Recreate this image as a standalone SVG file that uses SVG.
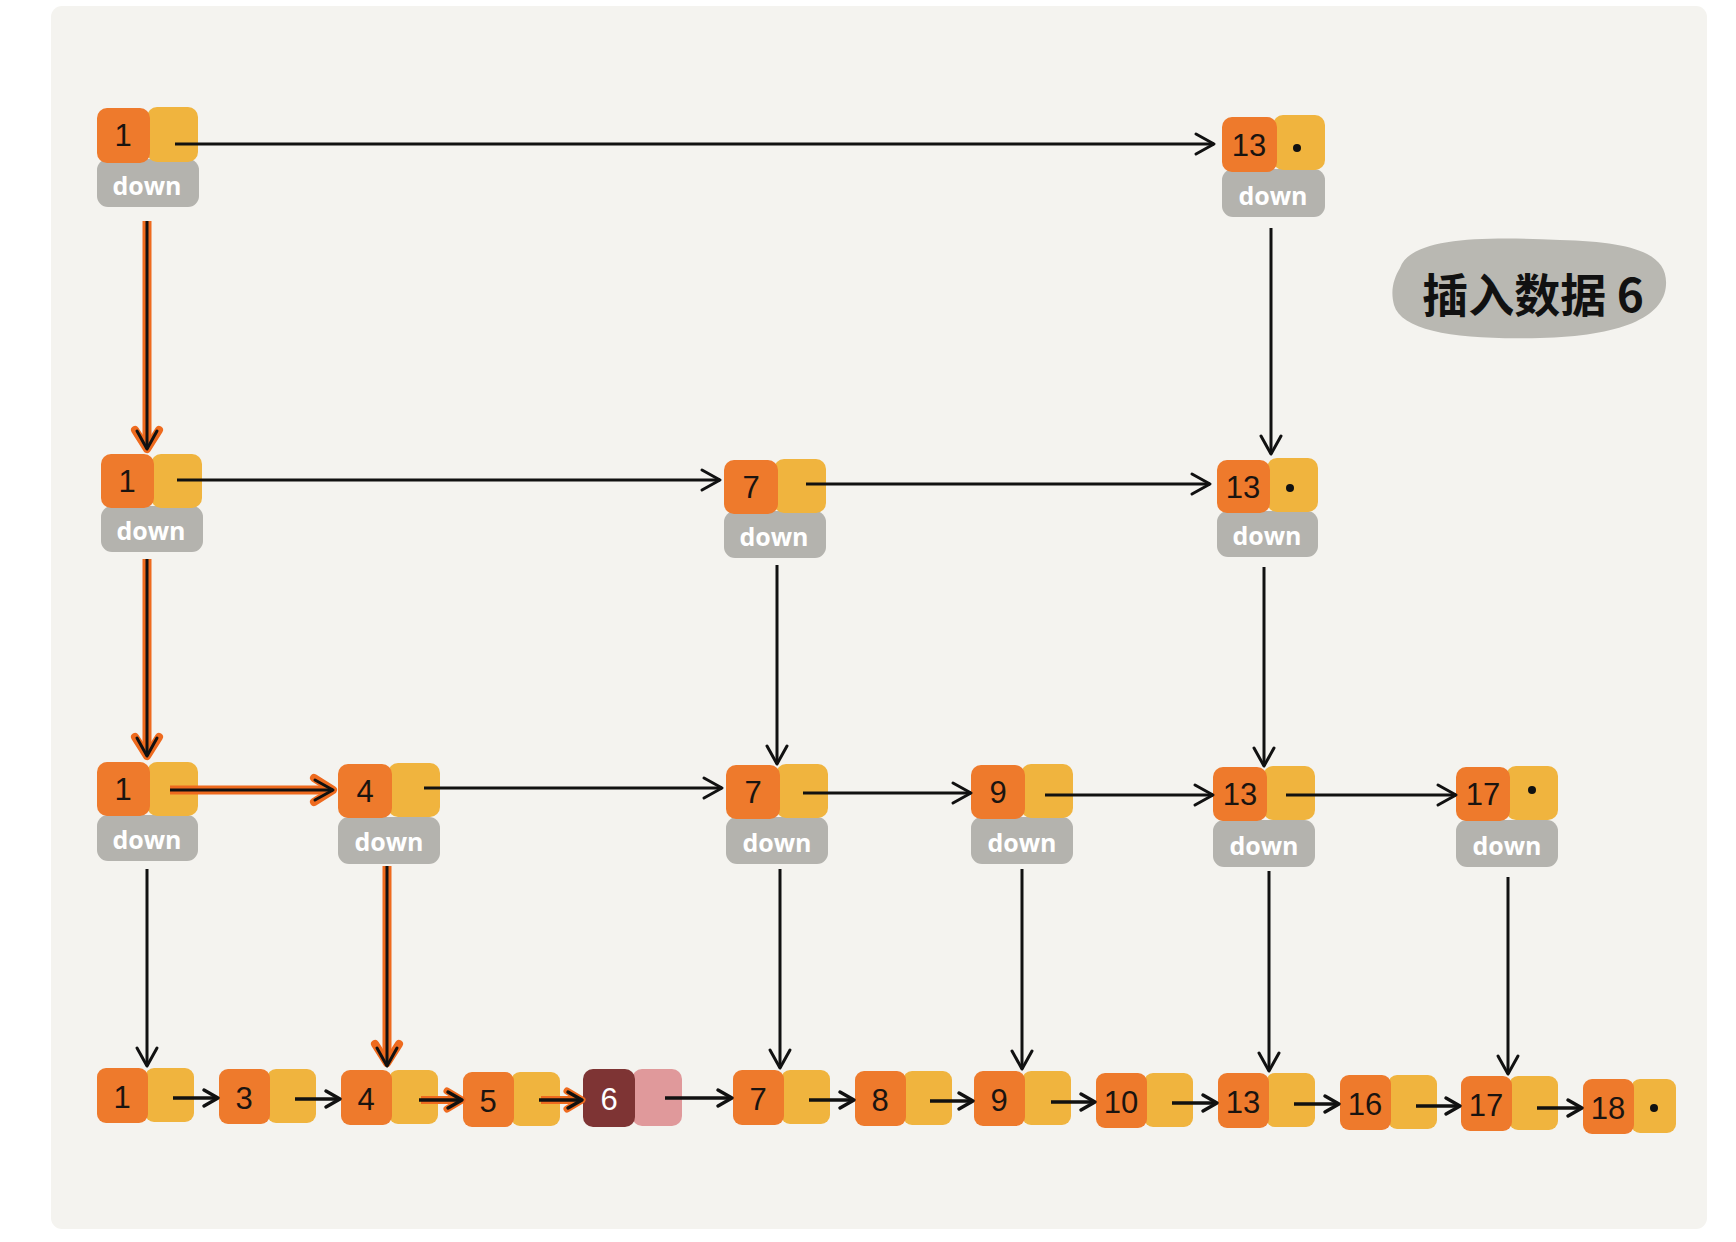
<svg xmlns="http://www.w3.org/2000/svg" width="1736" height="1242" viewBox="0 0 1736 1242">
<style>
.or{fill:#ee7a2c}
.ye{fill:#f0b43e}
.gr{fill:#b4b3ae}
.num{font-family:"Liberation Sans","DejaVu Sans",sans-serif;font-size:31px;fill:#1a1410;text-anchor:middle}
.dn{font-family:"Open Sans","DejaVu Sans",sans-serif;font-size:25px;font-weight:bold;fill:#ffffff;text-anchor:middle}
.ln{stroke:#111;stroke-width:3;fill:none;marker-end:url(#ah)}
.lns{stroke:#111;stroke-width:3.5;fill:none;marker-end:url(#ahs)}
.hl{stroke:#ee6a1e;stroke-width:9;fill:none;marker-end:url(#aho)}
.hls{stroke:#ee6a1e;stroke-width:8;fill:none;marker-end:url(#ahos)}
.dot{fill:#111}
</style>
<defs>
<marker id="ah" markerUnits="userSpaceOnUse" markerWidth="26" markerHeight="26" refX="21" refY="12" orient="auto" overflow="visible">
<path d="M3,2 L21,12 L3,22" fill="none" stroke="#111" stroke-width="3" stroke-linecap="round" stroke-linejoin="round"/>
</marker>
<marker id="ahs" markerUnits="userSpaceOnUse" markerWidth="22" markerHeight="22" refX="17" refY="10" orient="auto" overflow="visible">
<path d="M3,2 L17,10 L3,18" fill="none" stroke="#111" stroke-width="3.5" stroke-linecap="round" stroke-linejoin="round"/>
</marker>
<marker id="aho" markerUnits="userSpaceOnUse" markerWidth="30" markerHeight="30" refX="22" refY="14" orient="auto" overflow="visible">
<path d="M3,2 L22,14 L3,26" fill="none" stroke="#ee6a1e" stroke-width="8" stroke-linecap="round" stroke-linejoin="round"/>
</marker>
<marker id="ahos" markerUnits="userSpaceOnUse" markerWidth="26" markerHeight="26" refX="18" refY="11" orient="auto" overflow="visible">
<path d="M3,2 L18,11 L3,20" fill="none" stroke="#ee6a1e" stroke-width="7" stroke-linecap="round" stroke-linejoin="round"/>
</marker>
</defs>
<rect x="0" y="0" width="1736" height="1242" fill="#ffffff"/>
<rect x="51" y="6" width="1656" height="1223" rx="11" fill="#f4f3ef"/>

<g id="label">
<path d="M1400,268 C1410,238 1480,236 1560,240 C1630,242 1668,252 1666,285 C1664,318 1620,336 1540,338 C1460,340 1402,332 1394,305 C1390,290 1394,278 1400,268 Z" fill="#b9b8b2"/>
<text x="1533" y="312" font-family="Noto Sans CJK SC, sans-serif" font-size="46" font-weight="bold" fill="#111" text-anchor="middle">插入数据 6</text>
</g>

<!-- upper-level nodes -->
<g id="n0_1" transform="translate(97,107)">
<rect class="gr" x="0" y="52" width="102" height="48" rx="11"/>
<rect class="ye" x="50" y="0" width="51" height="55" rx="10"/>
<rect class="or" x="0" y="1" width="53" height="55" rx="10"/>
<text class="num" x="26" y="39">1</text>
<text class="dn" x="50" y="88">down</text>
</g>
<g id="n0_13" transform="translate(1222,117)">
<rect class="gr" x="0" y="52" width="103" height="48" rx="11"/>
<rect class="ye" x="51" y="-2" width="52" height="55" rx="10"/>
<rect class="or" x="0" y="0" width="55" height="55" rx="10"/>
<text class="num" x="27" y="39">13</text>
<circle class="dot" cx="75" cy="31" r="4"/>
<text class="dn" x="51" y="88">down</text>
</g>
<g id="n1_1" transform="translate(101,454)">
<rect class="gr" x="0" y="52" width="102" height="46" rx="11"/>
<rect class="ye" x="50" y="0" width="51" height="54" rx="10"/>
<rect class="or" x="0" y="0" width="53" height="54" rx="10"/>
<text class="num" x="26" y="38">1</text>
<text class="dn" x="50" y="86">down</text>
</g>
<g id="n1_7" transform="translate(724,459)">
<rect class="gr" x="0" y="52" width="102" height="47" rx="11"/>
<rect class="ye" x="50" y="0" width="52" height="54" rx="10"/>
<rect class="or" x="0" y="1" width="54" height="54" rx="10"/>
<text class="num" x="27" y="39">7</text>
<text class="dn" x="50" y="87">down</text>
</g>
<g id="n1_13" transform="translate(1217,458)">
<rect class="gr" x="0" y="53" width="101" height="46" rx="11"/>
<rect class="ye" x="50" y="0" width="51" height="54" rx="10"/>
<rect class="or" x="0" y="2" width="53" height="53" rx="10"/>
<text class="num" x="26" y="40">13</text>
<circle class="dot" cx="73" cy="30" r="4"/>
<text class="dn" x="50" y="87">down</text>
</g>
<g id="n2_1" transform="translate(97,762)">
<rect class="gr" x="0" y="53" width="101" height="46" rx="11"/>
<rect class="ye" x="50" y="0" width="51" height="54" rx="10"/>
<rect class="or" x="0" y="0" width="53" height="54" rx="10"/>
<text class="num" x="26" y="38">1</text>
<text class="dn" x="50" y="87">down</text>
</g>
<g id="n2_4" transform="translate(338,763)">
<rect class="gr" x="0" y="54" width="102" height="47" rx="11"/>
<rect class="ye" x="50" y="0" width="52" height="54" rx="10"/>
<rect class="or" x="0" y="1" width="54" height="54" rx="10"/>
<text class="num" x="27" y="39">4</text>
<text class="dn" x="51" y="88">down</text>
</g>
<g id="n2_7" transform="translate(726,764)">
<rect class="gr" x="0" y="53" width="102" height="47" rx="11"/>
<rect class="ye" x="50" y="0" width="52" height="54" rx="10"/>
<rect class="or" x="0" y="1" width="54" height="54" rx="10"/>
<text class="num" x="27" y="39">7</text>
<text class="dn" x="51" y="88">down</text>
</g>
<g id="n2_9" transform="translate(971,764)">
<rect class="gr" x="0" y="53" width="102" height="47" rx="11"/>
<rect class="ye" x="50" y="0" width="52" height="54" rx="10"/>
<rect class="or" x="0" y="1" width="54" height="54" rx="10"/>
<text class="num" x="27" y="39">9</text>
<text class="dn" x="51" y="88">down</text>
</g>
<g id="n2_13" transform="translate(1213,766)">
<rect class="gr" x="0" y="54" width="102" height="47" rx="11"/>
<rect class="ye" x="50" y="0" width="52" height="54" rx="10"/>
<rect class="or" x="0" y="1" width="54" height="54" rx="10"/>
<text class="num" x="27" y="39">13</text>
<text class="dn" x="51" y="89">down</text>
</g>
<g id="n2_17" transform="translate(1456,766)">
<rect class="gr" x="0" y="54" width="102" height="47" rx="11"/>
<rect class="ye" x="50" y="0" width="52" height="54" rx="10"/>
<rect class="or" x="0" y="1" width="54" height="54" rx="10"/>
<text class="num" x="27" y="39">17</text>
<circle class="dot" cx="76" cy="24" r="4"/>
<text class="dn" x="51" y="89">down</text>
</g>

<!-- bottom level nodes -->
<g id="n3_1" transform="translate(97,1068)">
<rect class="ye" x="48" y="0" width="49" height="54" rx="9"/>
<rect class="or" x="0" y="0" width="51" height="55" rx="9"/>
<text class="num" x="25" y="40">1</text>
</g>
<g id="n3_3" transform="translate(219,1069)">
<rect class="ye" x="48" y="0" width="49" height="54" rx="9"/>
<rect class="or" x="0" y="0" width="51" height="55" rx="9"/>
<text class="num" x="25" y="40">3</text>
</g>
<g id="n3_4" transform="translate(341,1070)">
<rect class="ye" x="48" y="0" width="49" height="54" rx="9"/>
<rect class="or" x="0" y="0" width="51" height="55" rx="9"/>
<text class="num" x="25" y="40">4</text>
</g>
<g id="n3_5" transform="translate(463,1072)">
<rect class="ye" x="48" y="0" width="49" height="54" rx="9"/>
<rect class="or" x="0" y="0" width="51" height="55" rx="9"/>
<text class="num" x="25" y="40">5</text>
</g>
<g id="n3_6" transform="translate(583,1069)">
<rect x="49" y="0" width="50" height="57" rx="10" fill="#e0999b"/>
<rect x="0" y="0" width="52" height="58" rx="10" fill="#7e3434"/>
<text class="num" x="26" y="41" style="fill:#ffffff">6</text>
</g>
<g id="n3_7" transform="translate(733,1070)">
<rect class="ye" x="48" y="0" width="49" height="54" rx="9"/>
<rect class="or" x="0" y="0" width="51" height="55" rx="9"/>
<text class="num" x="25" y="40">7</text>
</g>
<g id="n3_8" transform="translate(855,1071)">
<rect class="ye" x="48" y="0" width="49" height="54" rx="9"/>
<rect class="or" x="0" y="0" width="51" height="55" rx="9"/>
<text class="num" x="25" y="40">8</text>
</g>
<g id="n3_9" transform="translate(974,1071)">
<rect class="ye" x="48" y="0" width="49" height="54" rx="9"/>
<rect class="or" x="0" y="0" width="51" height="55" rx="9"/>
<text class="num" x="25" y="40">9</text>
</g>
<g id="n3_10" transform="translate(1096,1073)">
<rect class="ye" x="48" y="0" width="49" height="54" rx="9"/>
<rect class="or" x="0" y="0" width="51" height="55" rx="9"/>
<text class="num" x="25" y="40">10</text>
</g>
<g id="n3_13" transform="translate(1218,1073)">
<rect class="ye" x="48" y="0" width="49" height="54" rx="9"/>
<rect class="or" x="0" y="0" width="51" height="55" rx="9"/>
<text class="num" x="25" y="40">13</text>
</g>
<g id="n3_16" transform="translate(1340,1075)">
<rect class="ye" x="48" y="0" width="49" height="54" rx="9"/>
<rect class="or" x="0" y="0" width="51" height="55" rx="9"/>
<text class="num" x="25" y="40">16</text>
</g>
<g id="n3_17" transform="translate(1461,1076)">
<rect class="ye" x="48" y="0" width="49" height="54" rx="9"/>
<rect class="or" x="0" y="0" width="51" height="55" rx="9"/>
<text class="num" x="25" y="40">17</text>
</g>
<g id="n3_18" transform="translate(1583,1079)">
<rect class="ye" x="48" y="0" width="45" height="54" rx="9"/>
<rect class="or" x="0" y="0" width="51" height="55" rx="9"/>
<text class="num" x="25" y="40">18</text>
<circle class="dot" cx="71" cy="29" r="4"/>
</g>

<g id="connectors">
<!-- highlighted search path (orange under-strokes) -->
<line class="hl" x1="147" y1="221" x2="147" y2="449"/>
<line class="hl" x1="147" y1="559" x2="147" y2="756"/>
<line class="hl" x1="170" y1="790" x2="333" y2="790"/>
<line class="hl" x1="387" y1="866" x2="387" y2="1063"/>
<line class="hls" x1="421" y1="1100" x2="462" y2="1100"/>
<line class="hls" x1="541" y1="1100" x2="582" y2="1100"/>
<!-- level 0 -->
<line class="ln" x1="175" y1="144" x2="1214" y2="144"/>
<line class="ln" x1="1271" y1="228" x2="1271" y2="454"/>
<line class="ln" x1="147" y1="221" x2="147" y2="449"/>
<!-- level 1 -->
<line class="ln" x1="177" y1="480" x2="720" y2="480"/>
<line class="ln" x1="806" y1="484" x2="1210" y2="484"/>
<line class="ln" x1="147" y1="559" x2="147" y2="756"/>
<line class="ln" x1="777" y1="565" x2="777" y2="764"/>
<line class="ln" x1="1264" y1="567" x2="1264" y2="766"/>
<!-- level 2 -->
<line class="ln" x1="170" y1="790" x2="333" y2="790"/>
<line class="ln" x1="424" y1="788" x2="722" y2="788"/>
<line class="ln" x1="803" y1="793" x2="971" y2="793"/>
<line class="ln" x1="1045" y1="795" x2="1213" y2="795"/>
<line class="ln" x1="1286" y1="795" x2="1456" y2="795"/>
<line class="ln" x1="147" y1="869" x2="147" y2="1066"/>
<line class="ln" x1="387" y1="866" x2="387" y2="1066"/>
<line class="ln" x1="780" y1="869" x2="780" y2="1068"/>
<line class="ln" x1="1022" y1="869" x2="1022" y2="1069"/>
<line class="ln" x1="1269" y1="871" x2="1269" y2="1071"/>
<line class="ln" x1="1508" y1="877" x2="1508" y2="1074"/>
<!-- level 3 -->
<line class="lns" x1="173" y1="1098" x2="218" y2="1098"/>
<line class="lns" x1="295" y1="1099" x2="340" y2="1099"/>
<line class="lns" x1="419" y1="1100" x2="462" y2="1100"/>
<line class="lns" x1="539" y1="1100" x2="582" y2="1100"/>
<line class="lns" x1="665" y1="1098" x2="732" y2="1098"/>
<line class="lns" x1="809" y1="1100" x2="854" y2="1100"/>
<line class="lns" x1="930" y1="1101" x2="973" y2="1101"/>
<line class="lns" x1="1051" y1="1102" x2="1095" y2="1102"/>
<line class="lns" x1="1172" y1="1103" x2="1217" y2="1103"/>
<line class="lns" x1="1294" y1="1104" x2="1339" y2="1104"/>
<line class="lns" x1="1416" y1="1106" x2="1460" y2="1106"/>
<line class="lns" x1="1537" y1="1108" x2="1582" y2="1108"/>
</g>
</svg>
